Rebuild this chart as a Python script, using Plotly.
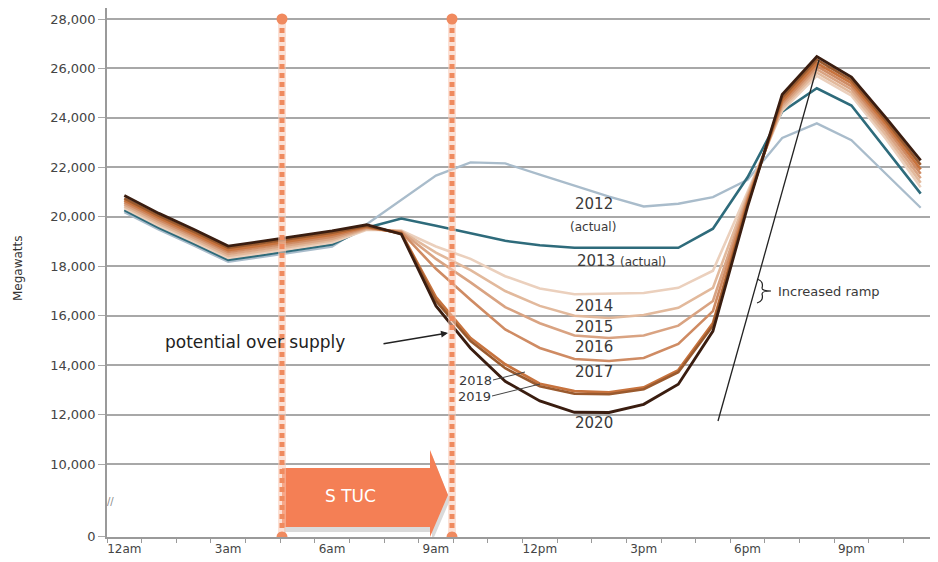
import plotly.graph_objects as go

# ---------------- data ----------------
hours = list(range(24))
tick_hours = [0, 3, 6, 9, 12, 15, 18, 21]
tick_labels = ["12am", "3am", "6am", "9am", "12pm", "3pm", "6pm", "9pm"]

years = ["2012", "2013", "2014", "2015", "2016", "2017", "2018", "2019", "2020"]

s2012 = [20190, 19480, 18840, 18180, 18380, 18580, 18800, 19700, 20700, 21670, 22200, 22160,
         21710, 21270, 20820, 20420, 20530, 20800, 21500, 23190, 23780, 23100, 21750, 20370]
s2013 = [20270, 19560, 18920, 18260, 18460, 18660, 18880, 19560, 19930, 19640, 19320, 19030,
         18850, 18750, 18750, 18750, 18750, 19520, 21600, 24250, 25200, 24500, 22700, 20940]
s2014 = [20350, 19640, 19000, 18340, 18540, 18740, 18960, 19480, 19450, 18800, 18300, 17600,
         17100, 16870, 16880, 16920, 17130, 17820, 21000, 24300, 25700, 24900, 23150, 21200]
s2015 = [20430, 19720, 19080, 18420, 18620, 18820, 19040, 19510, 19420, 18550, 17850, 17000,
         16400, 16000, 15910, 16030, 16320, 17130, 20900, 24400, 25830, 25020, 23300, 21380]
s2016 = [20510, 19800, 19160, 18500, 18700, 18900, 19120, 19540, 19400, 18300, 17350, 16350,
         15700, 15200, 15100, 15200, 15600, 16600, 20800, 24500, 25960, 25150, 23450, 21560]
s2017 = [20590, 19880, 19240, 18580, 18780, 18980, 19200, 19570, 19380, 17900, 16650, 15450,
         14700, 14250, 14170, 14290, 14860, 16190, 20700, 24600, 26090, 25280, 23600, 21740]
s2018 = [20670, 19960, 19320, 18660, 18860, 19060, 19280, 19600, 19340, 16750, 15100, 14040,
         13250, 12950, 12900, 13100, 13800, 15700, 20600, 24700, 26220, 25410, 23750, 21920]
s2019 = [20750, 20040, 19400, 18740, 18940, 19140, 19360, 19630, 19320, 16600, 14980, 13880,
         13150, 12850, 12830, 13030, 13720, 15600, 20500, 24820, 26360, 25530, 23880, 22100]
s2020 = [20860, 20140, 19500, 18820, 19020, 19220, 19430, 19680, 19300, 16400, 14690, 13350,
         12560, 12100, 12090, 12420, 13230, 15380, 20400, 24950, 26480, 25650, 24000, 22280]

series = [s2012, s2013, s2014, s2015, s2016, s2017, s2018, s2019, s2020]
colors = ["#a9bccb", "#2e6b7b", "#ebd0bd", "#e2b99c", "#d9a382", "#cf8b63",
          "#c7733e", "#9a5a2e", "#3a1d10"]
widths = [2.3, 2.6, 2.6, 2.6, 2.6, 2.6, 2.8, 2.6, 2.8]

y_tickvals = [7061, 10000, 12000, 14000, 16000, 18000, 20000, 22000, 24000, 26000, 28000]
y_ticktext = ["0", "10,000", "12,000", "14,000", "16,000", "18,000", "20,000",
              "22,000", "24,000", "26,000", "28,000"]

# ---------------- layout geometry (page pixels) ----------------
PAGE_W, PAGE_H = 938, 562
OFF = 8                      # browser body margin
W, H = PAGE_W - OFF, PAGE_H - OFF
L, R, T, B = 107, 938, 8, 537   # plot area in page pixels
X0, X1 = -0.5, 23.5
Y0, Y1 = 7055, 28445


def px2x(px):
    return X0 + (px - L) / (R - L) * (X1 - X0)


def px2y(py):
    return Y1 - (py - T) / (B - T) * (Y1 - Y0)


FONT = "DejaVu Sans"
TXT = "#3a3a3a"

fig = go.Figure()

for i in range(len(series)):
    fig.add_trace(go.Scatter(
        x=hours, y=series[i], mode="lines", name=years[i],
        line=dict(color=colors[i], width=widths[i]),
        hoverinfo="skip", showlegend=False))

shapes = []
annotations = []


def arrow_path(dx=0, dy=0):
    pts = [(282, 468), (430, 468), (430, 450), (448, 495), (430, 537), (430, 527), (282, 527)]
    s = ""
    for k, (px, py) in enumerate(pts):
        s += ("M " if k == 0 else " L ") + f"{px2x(px + dx):.4f},{px2y(py + dy):.2f}"
    return s + " Z"


shapes.append(dict(type="path", path=arrow_path(2, 5), xref="x", yref="y",
                   fillcolor="rgba(150,150,150,0.35)", line=dict(width=0), layer="above"))
shapes.append(dict(type="path", path=arrow_path(), xref="x", yref="y",
                   fillcolor="#f47f55", line=dict(width=0), layer="above"))

# dotted vertical markers
for vx in (282, 452):
    shapes.append(dict(type="line", xref="x", yref="y",
                       x0=px2x(vx), x1=px2x(vx), y0=px2y(19), y1=px2y(537),
                       line=dict(color="rgba(248,200,180,0.55)", width=8), layer="above"))
    shapes.append(dict(type="line", xref="x", yref="y",
                       x0=px2x(vx), x1=px2x(vx), y0=px2y(19), y1=px2y(537),
                       line=dict(color="#ef8a5e", width=5, dash="5px,4px"), layer="above"))
    for vy in (19, 537):
        shapes.append(dict(type="circle", xref="x", yref="y",
                           x0=px2x(vx - 5.5), x1=px2x(vx + 5.5),
                           y0=px2y(vy + 5.5), y1=px2y(vy - 5.5),
                           fillcolor="#f08a5f", line=dict(width=0), layer="above"))

# increased ramp line + brace
shapes.append(dict(type="line", xref="x", yref="y",
                   x0=px2x(718), y0=px2y(421), x1=px2x(819), y1=px2y(60),
                   line=dict(color="#222222", width=1.3), layer="above"))
bpath = (f"M {px2x(757):.4f},{px2y(303):.2f} "
         f"Q {px2x(764):.4f},{px2y(301):.2f} {px2x(762):.4f},{px2y(294):.2f} "
         f"Q {px2x(762):.4f},{px2y(291):.2f} {px2x(771):.4f},{px2y(291):.2f} "
         f"Q {px2x(762):.4f},{px2y(291):.2f} {px2x(762):.4f},{px2y(288):.2f} "
         f"Q {px2x(764):.4f},{px2y(281):.2f} {px2x(757):.4f},{px2y(279):.2f}")
shapes.append(dict(type="path", path=bpath, xref="x", yref="y",
                   line=dict(color="#222222", width=1.2), layer="above"))

# leader lines for 2018 / 2019
shapes.append(dict(type="line", xref="x", yref="y",
                   x0=px2x(493), y0=px2y(380), x1=px2x(525), y1=px2y(372),
                   line=dict(color="#444444", width=1), layer="above"))
shapes.append(dict(type="line", xref="x", yref="y",
                   x0=px2x(492), y0=px2y(396), x1=px2x(540), y1=px2y(384),
                   line=dict(color="#444444", width=1), layer="above"))


def text(px, py, s, size, color=TXT, family=FONT, xanchor="center", angle=0):
    annotations.append(dict(x=(px - L) / (R - L), y=px2y(py), xref="paper", yref="y", text=s,
                            showarrow=False, xanchor=xanchor, yanchor="middle",
                            textangle=angle,
                            font=dict(size=size, color=color, family=family)))


text(594, 204, "2012", 15)
text(593, 227, "(actual)", 12)
text(575, 261, "2013 <span style='font-size:12px'>(actual)</span>", 15, xanchor="left")
text(594, 306, "2014", 15)
text(594, 327, "2015", 15)
text(594, 347, "2016", 15)
text(594, 372, "2017", 15)
text(594, 423, "2020", 15)
text(475, 380, "2018", 13)
text(474, 396, "2019", 13)
text(776, 291, "Increased ramp", 13, xanchor="left")
text(163, 342, "potential over supply", 17, color="#222222", xanchor="left")
text(350, 496, "S TUC", 17, color="#ffffff")
text(110, 501, "//", 10, color="#888888")
text(18, 268, "Megawatts", 12, color="#333333", angle=-90)

# arrow for potential over supply
annotations.append(dict(x=px2x(448), y=px2y(333), xref="x", yref="y",
                        ax=px2x(382), ay=px2y(344), axref="x", ayref="y",
                        text="", showarrow=True, arrowhead=2, arrowsize=1,
                        arrowwidth=1.4, arrowcolor="#222222"))

fig.update_layout(
    width=W, height=H,
    margin=dict(l=L - OFF, r=PAGE_W - R, t=T - OFF, b=PAGE_H - B, autoexpand=False),
    paper_bgcolor="white", plot_bgcolor="white",
    shapes=shapes, annotations=annotations,
    font=dict(family=FONT, color="#444444"),
    xaxis=dict(range=[X0, X1], tickvals=tick_hours, ticktext=tick_labels,
               ticks="", showgrid=False, zeroline=False, automargin=False,
               showline=True, linecolor="#9a9a9a", linewidth=2,
               tickfont=dict(size=12, color="#444444", family=FONT),
               minor=dict(ticks="outside", tick0=-0.5, dtick=1, ticklen=4,
                          tickcolor="#9a9a9a", tickwidth=1, showgrid=False)),
    yaxis=dict(range=[Y0, Y1], tickvals=y_tickvals, ticktext=y_ticktext,
               showgrid=True, gridcolor="#a8a8a8", gridwidth=2, zeroline=False,
               showline=True, linecolor="#9a9a9a", linewidth=1.5, automargin=False,
               ticks="outside", ticklen=7, tickcolor="#a8a8a8",
               tickfont=dict(size=13, color="#444444", family=FONT)),
)

fig.write_html("out.html")
